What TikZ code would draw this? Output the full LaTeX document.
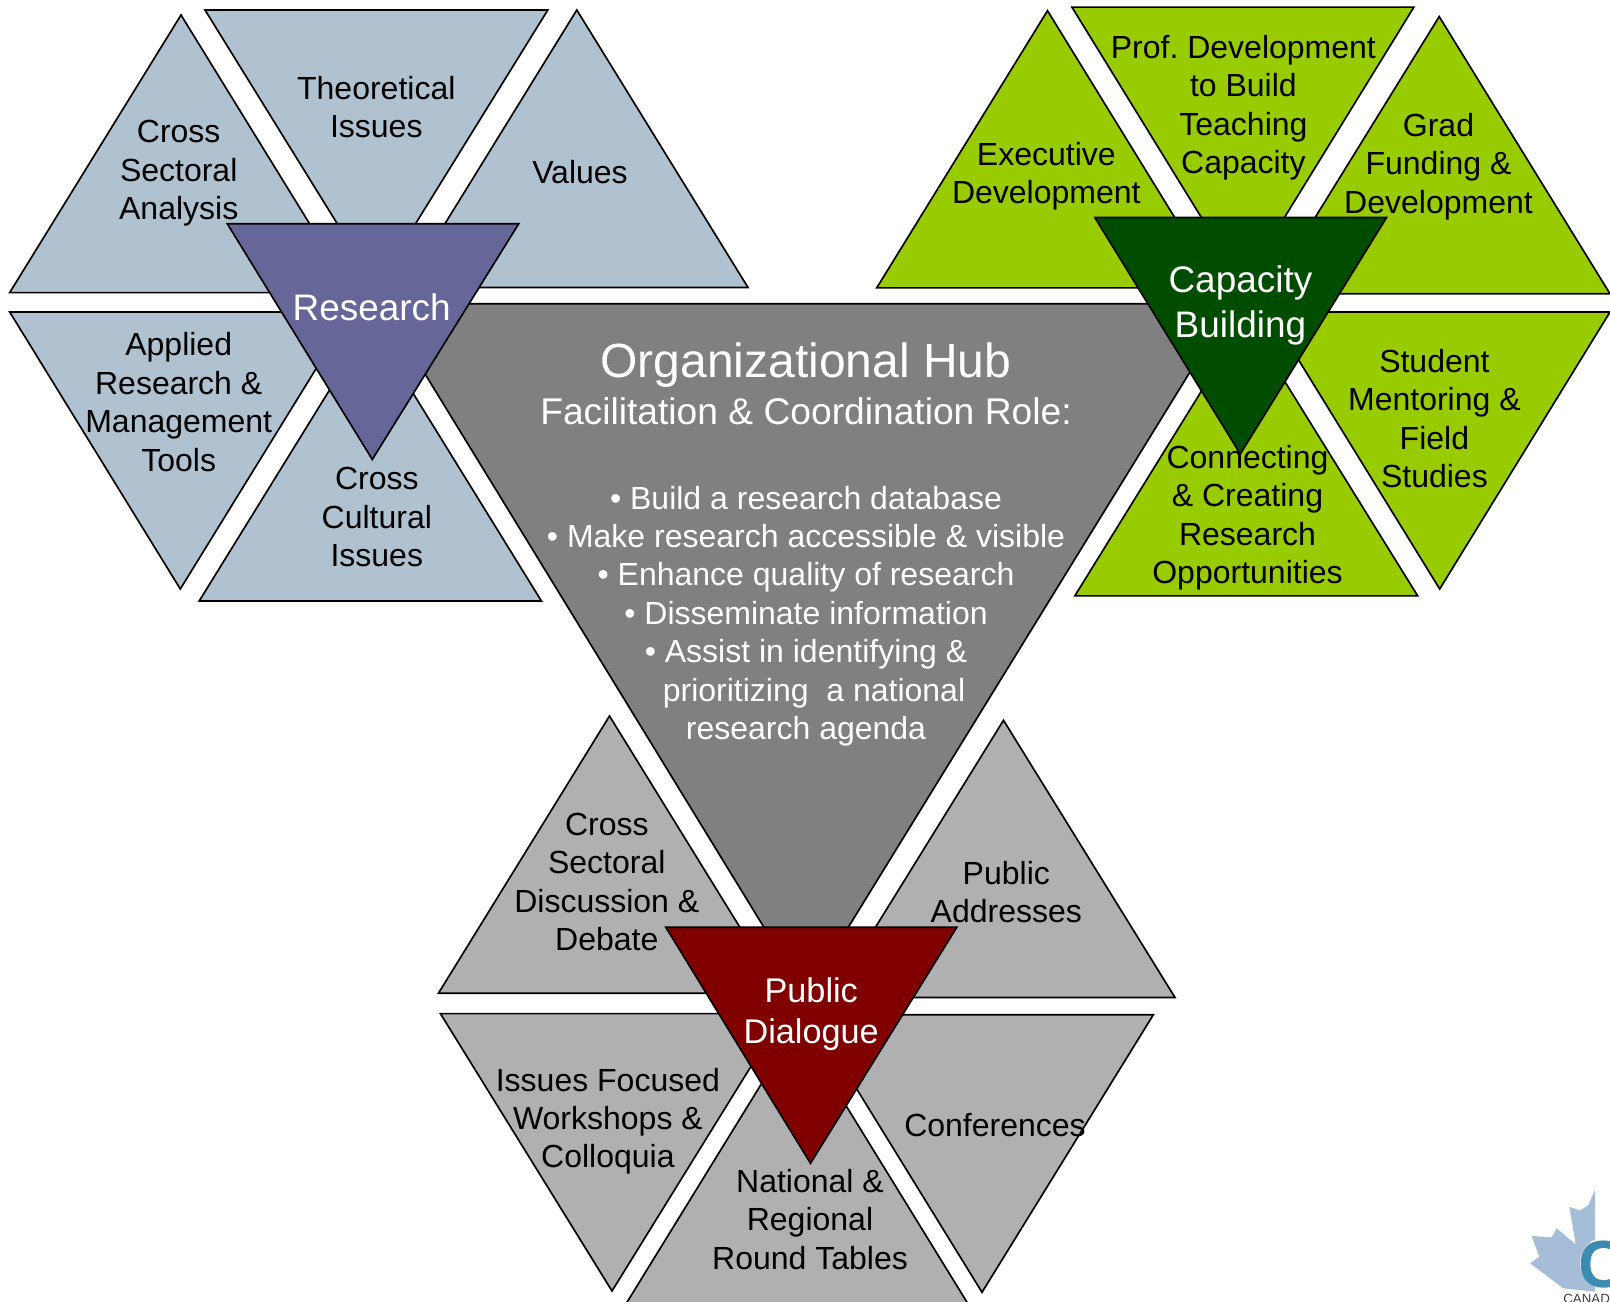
\documentclass[tikz,border=0pt]{standalone}
\usepackage{fontspec}
\setmainfont{Liberation Sans}
\frenchspacing
\tikzset{
  cell/.style={draw=black,line width=1.25pt,line join=miter},
  bluecell/.style={cell,fill=cellblue},
  greencell/.style={cell,fill=cellgreen},
  greycell/.style={cell,fill=cellgrey},
  lab/.style={align=center,inner sep=0pt,text=black,font=\fontsize{24}{28.8}\selectfont},
  headlab/.style={align=center,inner sep=0pt,text=white},
}
\definecolor{cellblue}{HTML}{B0C2D0}
\definecolor{cellgreen}{HTML}{99CC00}
\definecolor{cellgrey}{HTML}{B0B0B0}
\definecolor{hubgrey}{HTML}{808080}
\definecolor{resblue}{HTML}{666699}
\definecolor{capgreen}{HTML}{004D00}
\definecolor{pubred}{HTML}{800000}
\definecolor{leafblue}{HTML}{A5BDD6}
\definecolor{logoteal}{HTML}{3C8BB0}
\begin{document}
\begin{tikzpicture}[x=0.75pt,y=-0.75pt]
\useasboundingbox (0,0) rectangle (1610,1302);
% research group
\path[bluecell] (181,15)--(9.7,292.6)--(352,292.6)--cycle;
\path[bluecell] (205,10)--(547.8,10)--(376.4,287)--cycle;
\path[bluecell] (576.8,10)--(748,287.5)--(405.6,287.5)--cycle;
\path[bluecell] (9.7,312)--(351,312)--(180.3,589)--cycle;
\path[bluecell] (199.2,601)--(541.4,601)--(370.3,324)--cycle;
% capacity group
\path[greencell] (1047.5,10.7)--(876.7,287.9)--(1218,287.9)--cycle;
\path[greencell] (1071.9,7.1)--(1413.9,7.1)--(1242.9,285)--cycle;
\path[greencell] (1439.2,16.6)--(1610,293.8)--(1268,293.8)--cycle;
\path[greencell] (1269,312)--(1610,312)--(1439.7,589)--cycle;
\path[greencell] (1074.8,595.9)--(1417.7,595.9)--(1246,319)--cycle;
% dialogue group
\path[greycell] (609.5,716)--(438.4,993.3)--(780.6,993.3)--cycle;
\path[greycell] (1003.5,720.3)--(1175,997.5)--(832,997.5)--cycle;
\path[greycell] (440.4,1013.6)--(783.6,1013.6)--(612,1291)--cycle;
\path[greycell] (811,1014.8)--(1153.3,1014.8)--(982,1292.3)--cycle;
\path[greycell] (797,1026)--(621,1312)--(973,1312)--cycle;
% hub and heads
\path[cell,fill=hubgrey] (382,303.7)--(1232,303.7)--(806,996)--cycle;
\path[cell,fill=resblue] (227.3,223.8)--(518.7,223.8)--(372.3,459.5)--cycle;
\path[cell,fill=capgreen] (1094.8,217.5)--(1386.6,217.5)--(1240.3,454)--cycle;
\path[cell,fill=pubred] (665.8,927.3)--(956.8,927.3)--(810.5,1163.3)--cycle;
% logo
\fill[leafblue] (1595,1190)--(1588.3,1205)--(1580,1210.7)--(1569.3,1206.7)--(1572.7,1226.7)--(1575.7,1244.3)--(1567.3,1237.3)--(1556.7,1228.3)--(1551.7,1237.3)--(1531.7,1236)--(1539.3,1256.7)--(1530,1263.3)--(1563.3,1288.3)--(1595,1291.7)--cycle;
\fill[white] (1606,1263) circle[radius=26];
\node[anchor=base west,inner sep=0pt,text=logoteal,font=\fontsize{50}{50}\selectfont\bfseries] (logoC) at (1578,1287) {C};
\node[anchor=base west,inner sep=0pt,text=black!75,font=\fontsize{10}{10}\selectfont] (logoT) at (1563,1303.5) {CANAD};
% labels
\node[lab] (a1) at (178.7,173.4) {Cross\\Sectoral\\Analysis};
\node[lab] (a2) at (376.3,107.3) {Theoretical\\Issues};
\node[lab] (a3) at (580,172.5) {Values};
\node[lab] (a4) at (178.7,402) {Applied\\Research \&\\Management\\Tools};
\node[lab] (a5) at (376.8,517) {Cross\\Cultural\\Issues};
\node[lab] (b1) at (1046.3,176) {Executive\\Development};
\node[lab] (b2) at (1243.4,107.8) {Prof. Development\\to Build\\Teaching\\Capacity};
\node[lab] (b3) at (1438.5,166.4) {Grad\\Funding \&\\Development};
\node[lab] (b4) at (1434.4,418.4) {Student\\Mentoring \&\\Field\\Studies};
\node[lab] (b5) at (1247.5,517.6) {Connecting\\\& Creating\\Research\\Opportunities};
\node[lab] (c1) at (606.8,882) {Cross\\Sectoral\\Discussion \&\\Debate};
\node[lab] (c2) at (1006.3,891.8) {Public\\Addresses};
\node[lab] (c3) at (607.9,1121.2) {Issues Focused\\Workshops \&\\Colloquia};
\node[lab] (c4) at (995,1125.4) {Conferences};
\node[lab] (c5) at (810,1219.5) {National \&\\Regional\\Round Tables};
\node[headlab,font=\fontsize{27.7}{32}\selectfont] (h1) at (371.7,307) {Research};
\node[headlab,font=\fontsize{27.7}{33.8}\selectfont] (h2) at (1240.4,305.5) {Capacity\\Building};
\node[headlab,font=\fontsize{25.7}{30.8}\selectfont] (h3) at (811.2,1014.4) {Public\\Dialogue};
\node[headlab,font=\fontsize{36}{40}\selectfont] (hub1) at (806,364.6) {Organizational Hub};
\node[headlab,font=\fontsize{27.9}{32}\selectfont] (hub2) at (806,411.2) {Facilitation \& Coordination Role:};
\node[headlab,font=\fontsize{24}{28.8}\selectfont] (hub3) at (806,616) {• Build a research database\\• Make research accessible \& visible\\• Enhance quality of research\\• Disseminate information\\• Assist in identifying \&\\\hspace*{12pt}prioritizing\hspace{0.278em} a national\\research agenda};
\end{tikzpicture}
\end{document}
